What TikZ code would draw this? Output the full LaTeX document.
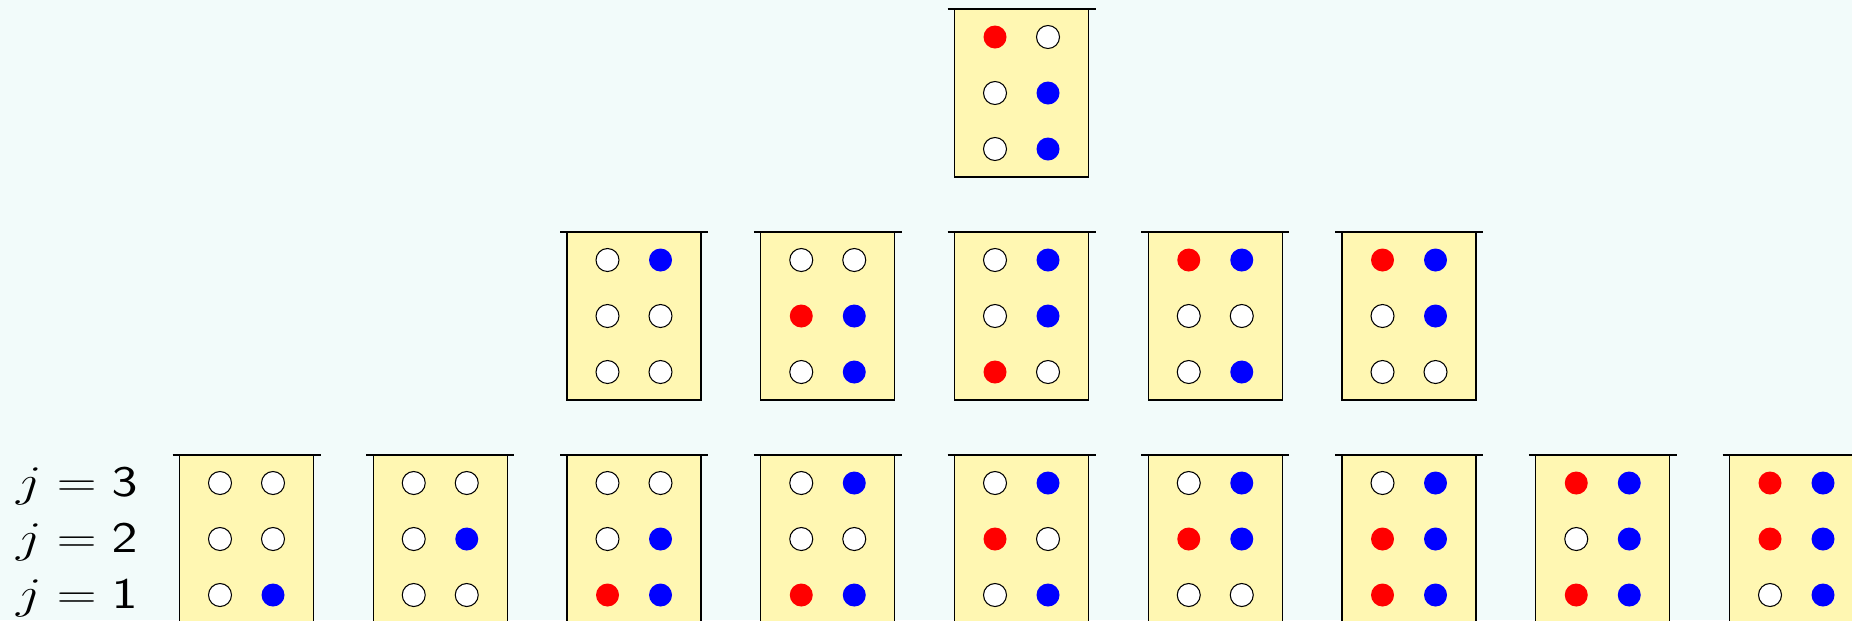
\documentclass[tikz,border=0pt]{standalone}
\usepackage{tikz}
\usetikzlibrary{positioning}
\usepackage{graphicx}
\definecolor{bgcol}{RGB}{242,251,250}
\definecolor{tubefill}{RGB}{255,247,178}
\tikzset{
  tube/.style={draw, line width=0.6pt, fill=tubefill, minimum width=2.68cm, minimum height=3.36cm, inner sep=0pt, outer sep=0pt, anchor=north},
  rim/.style={line width=1.3pt},
  ball/.style={circle, inner sep=0pt, minimum size=4.6mm},
  free/.style={ball, draw, line width=0.6pt, fill=white},
  rball/.style={ball, fill=red},
  bball/.style={ball, fill=blue},
  lbl/.style={anchor=base east, inner sep=0pt, font=\fontsize{23}{27}\selectfont}
}
% #1 name, #2 placement, #3-#8 the balls, row j=3 down to j=1, left then right
\newcommand{\drawtube}[8]{%
  \node[tube, #2] (#1) {};
  \draw[rim] ([xshift=-1.4mm]#1.north west) -- ([xshift=1.4mm]#1.north east);
  \node[#3] (#1-3l) at ([shift={(-0.53,-0.56)}]#1.north) {};
  \node[#4] (#1-3r) at ([shift={(0.53,-0.56)}]#1.north) {};
  \node[#5] (#1-2l) at ([shift={(-0.53,-1.68)}]#1.north) {};
  \node[#6] (#1-2r) at ([shift={(0.53,-1.68)}]#1.north) {};
  \node[#7] (#1-1l) at ([shift={(-0.53,-2.80)}]#1.north) {};
  \node[#8] (#1-1r) at ([shift={(0.53,-2.80)}]#1.north) {};
}

\begin{document}
\begin{tikzpicture}[node distance=1.1cm and 1.195cm]
\useasboundingbox (0,0) rectangle (37.04,-12.4);
\clip (0,0) rectangle (37.04,-12.4);
\fill[bgcol] (0,0) rectangle (37.04,-12.4);

% bottom row
\drawtube{b1}{at={(4.93,-9.1)}}{free}{free}{free}{free}{free}{bball}
\drawtube{b2}{right=of b1}{free}{free}{free}{bball}{free}{free}
\drawtube{b3}{right=of b2}{free}{free}{free}{bball}{rball}{bball}
\drawtube{b4}{right=of b3}{free}{bball}{free}{free}{rball}{bball}
\drawtube{b5}{right=of b4}{free}{bball}{rball}{free}{free}{bball}
\drawtube{b6}{right=of b5}{free}{bball}{rball}{bball}{free}{free}
\drawtube{b7}{right=of b6}{free}{bball}{rball}{bball}{rball}{bball}
\drawtube{b8}{right=of b7}{rball}{bball}{free}{bball}{rball}{bball}
\drawtube{b9}{right=of b8}{rball}{bball}{rball}{bball}{free}{bball}

% middle row
\drawtube{m1}{above=of b3}{free}{bball}{free}{free}{free}{free}
\drawtube{m2}{right=of m1}{free}{free}{rball}{bball}{free}{bball}
\drawtube{m3}{right=of m2}{free}{bball}{free}{bball}{rball}{free}
\drawtube{m4}{right=of m3}{rball}{bball}{free}{free}{free}{bball}
\drawtube{m5}{right=of m4}{rball}{bball}{free}{bball}{free}{free}

% top
\drawtube{t0}{above=of m3}{rball}{free}{free}{bball}{free}{bball}

% levels
\node[lbl] (j3) at ([shift={(-1.64,-0.27)}]b1-3l) {\scalebox{1.26}[1]{$j=\mathsf{3}$}};
\node[lbl] (j2) at ([shift={(-1.64,-0.27)}]b1-2l) {\scalebox{1.26}[1]{$j=\mathsf{2}$}};
\node[lbl] (j1) at ([shift={(-1.64,-0.27)}]b1-1l) {\scalebox{1.26}[1]{$j=\mathsf{1}$}};
\end{tikzpicture}
\end{document}
